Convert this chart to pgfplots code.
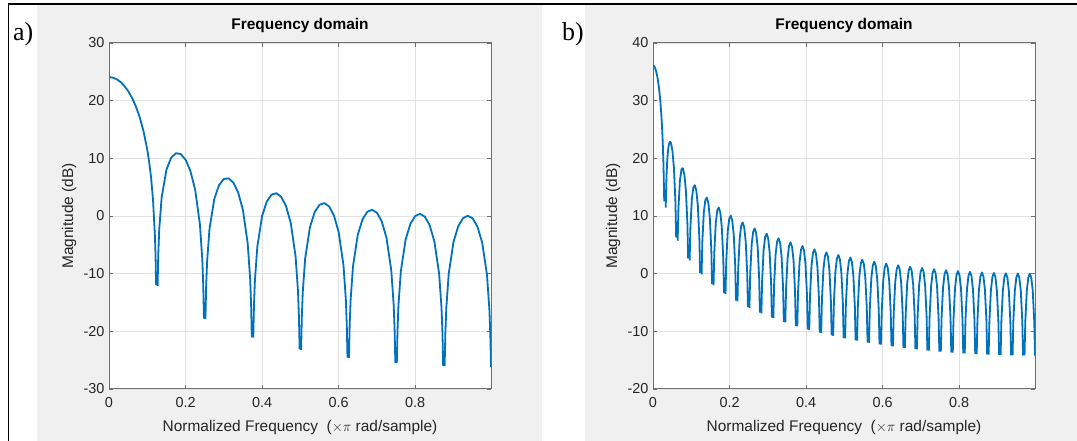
\documentclass[border=0pt]{standalone}
\usepackage{fontspec}
\setmainfont{Liberation Sans}
\newfontfamily\timesfont{Liberation Serif}
\usepackage{pgfplots}
\pgfplotsset{compat=1.18}
\definecolor{mblue}{HTML}{0072BD}
\definecolor{mgray}{HTML}{F0F0F0}
\definecolor{mtext}{HTML}{262626}
\definecolor{mbox}{HTML}{707070}
\definecolor{mgrid}{HTML}{E2E2E2}

\pgfplotsset{freqz/.style={
  scale only axis, width=382bp, height=346bp, anchor=south west,
  xmin=0, xmax=0.99805,
  xtick={0,0.2,0.4,0.6,0.8},
  grid=major, major grid style={mgrid, line width=0.8bp},
  axis line style={mbox, line width=1bp},
  every tick/.style={mbox, line width=0.8bp}, major tick length=4bp,
  tick label style={font=\fontsize{14.5}{14.5}\selectfont, text=mtext},
  xticklabel style={yshift=-5bp},
  yticklabel style={xshift=-1bp},
  /pgf/number format/assume math mode=true,
  label style={font=\fontsize{15.5}{17}\selectfont, text=mtext},
  title style={font=\bfseries\fontsize{15.5}{17}\selectfont, at={(axis description cs:0.5,1.022)}, anchor=base},
  xlabel style={at={(axis description cs:0.5,-0.1214)}, anchor=base},
  ylabel style={at={(axis description cs:-0.094,0.5)}, anchor=base},
  title={Frequency domain},
  xlabel={Normalized Frequency\ \ ($\times\pi$ rad/sample)},
  ylabel={Magnitude (dB)},
  unbounded coords=jump,
  axis background/.style={fill=white},
}}
\tikzset{resp/.style={mblue, line width=1.8bp, line join=round, no marks}}

\begin{document}
\begin{tikzpicture}[x=1bp,y=1bp]
\useasboundingbox (0bp,0bp) rectangle (1077bp,441bp);
% page and panel backgrounds
\fill[white] (0bp,0bp) rectangle (1077bp,441bp);
\fill[mgray] (37bp,0bp) rectangle (542bp,436bp);
\fill[mgray] (585bp,0bp) rectangle (1077bp,436bp);
\draw[black, line width=1.5bp] (8bp,437bp) -- (1077bp,437bp);
\draw[black, line width=1.5bp] (8.5bp,0bp) -- (8.5bp,437.7bp);
\node[anchor=base west, font=\timesfont\fontsize{26}{26}\selectfont, inner sep=0pt] at (13bp,400bp) {a)};
\node[anchor=base west, font=\timesfont\fontsize{26}{26}\selectfont, inner sep=0pt] at (562bp,400bp) {b)};

% a) length-16 rectangular window
\begin{axis}[freqz, at={(109bp,52bp)}, ymin=-30, ymax=30, ytick={-30,-20,-10,0,10,20,30}]
\addplot[resp] coordinates {
(0,24.08)(0.01,23.99)(0.02,23.72)(0.03,23.25)(0.04,22.57)(0.05,21.67)(0.06,20.51)(0.07,19.04)(0.08,17.17)(0.09,14.76)(0.1,11.50)(0.105,9.35)(0.11,6.61)(0.115,2.82)(0.12,-3.50)(0.1215,-6.68)(0.12305,-12.0)(0.125,nan)
(0.12695,-12.1)(0.12875,-6.58)(0.13125,-2.32)(0.1375,3.18)(0.15,8.02)(0.1625,10.12)(0.175,10.89)(0.1875,10.74)(0.2,9.76)(0.2125,7.85)(0.225,4.60)(0.2375,-1.43)(0.24375,-7.56)(0.24625,-12.06)(0.24805,-17.78)(0.25,nan)
(0.25195,-17.90)(0.25375,-12.31)(0.25625,-7.97)(0.2625,-2.26)(0.275,2.94)(0.2875,5.36)(0.3,6.42)(0.3125,6.53)(0.325,5.78)(0.3375,4.08)(0.35,1.02)(0.3625,-4.83)(0.36875,-10.87)(0.37125,-15.34)(0.37305,-21.03)(0.375,nan)
(0.37695,-21.11)(0.37875,-15.49)(0.38125,-11.12)(0.3875,-5.34)(0.4,0.00)(0.4125,2.55)(0.425,3.72)(0.4375,3.95)(0.45,3.31)(0.4625,1.71)(0.475,-1.25)(0.4875,-7.02)(0.49375,-13.01)(0.49625,-17.47)(0.49805,-23.14)(0.5,nan)
(0.50195,-23.20)(0.50375,-17.57)(0.50625,-13.19)(0.5125,-7.36)(0.525,-1.94)(0.5375,0.69)(0.55,1.94)(0.5625,2.24)(0.575,1.66)(0.5875,0.13)(0.6,-2.78)(0.6125,-8.48)(0.61875,-14.45)(0.62125,-18.89)(0.62305,-24.56)(0.625,nan)
(0.62695,-24.60)(0.62875,-18.96)(0.63125,-14.56)(0.6375,-8.71)(0.65,-3.24)(0.6625,-0.56)(0.675,0.74)(0.6875,1.09)(0.7,0.56)(0.7125,-0.92)(0.725,-3.78)(0.7375,-9.44)(0.74375,-15.39)(0.74625,-19.82)(0.74805,-25.48)(0.75,nan)
(0.75195,-25.50)(0.75375,-19.86)(0.75625,-15.46)(0.7625,-9.58)(0.775,-4.07)(0.7875,-1.35)(0.8,0.00)(0.8125,0.38)(0.825,-0.11)(0.8375,-1.55)(0.85,-4.38)(0.8625,-10.00)(0.86875,-15.93)(0.87125,-20.35)(0.87305,-26.01)(0.875,nan)
(0.87695,-26.01)(0.87875,-20.37)(0.88125,-15.96)(0.8875,-10.06)(0.9,-4.51)(0.9125,-1.76)(0.925,-0.38)(0.9375,0.04)(0.95,-0.41)(0.9625,-1.83)(0.975,-4.61)(0.9875,-10.20)(0.99375,-16.11)(0.99625,-20.53)(0.99805,-26.18)
};
\end{axis}

% b) length-64 rectangular window
\begin{axis}[freqz, at={(653bp,52bp)}, ymin=-20, ymax=40, ytick={-20,-10,0,10,20,30,40}]
\addplot[resp] coordinates {
(0,36.12)(0.00391,35.90)(0.00781,35.21)(0.01172,34.01)(0.01563,32.20)(0.01758,31.01)(0.01953,29.58)(0.02148,27.83)(0.02344,25.67)(0.02539,22.88)(0.02734,19.00)(0.02930,12.55)(0.03125,nan)
(0.03320,11.46)(0.03516,16.82)(0.03711,19.58)(0.03906,21.24)(0.04102,22.23)(0.04297,22.73)(0.04492,22.87)(0.04688,22.67)(0.05078,21.28)(0.05469,18.32)(0.05859,12.39)(0.06055,6.25)(0.0625,nan)
(0.06445,5.71)(0.06641,11.31)(0.07031,16.14)(0.07422,18.00)(0.07617,18.29)(0.07813,18.24)(0.08203,17.13)(0.08594,14.41)(0.08984,8.70)(0.09180,2.65)(0.09375,nan)
(0.09570,2.29)(0.09766,7.98)(0.10156,12.97)(0.10547,14.97)(0.10938,15.34)(0.11328,14.35)(0.11719,11.74)(0.12109,6.13)(0.12305,0.13)(0.125,nan)
(0.12695,-0.13)(0.12891,5.61)(0.13281,10.69)(0.13672,12.75)(0.14063,13.19)(0.14453,12.28)(0.14844,9.73)(0.15234,4.18)(0.15430,-1.80)(0.15625,nan)
(0.15820,-2.01)(0.16016,3.75)(0.16406,8.88)(0.16797,10.99)(0.17188,11.48)(0.17578,10.61)(0.17969,8.10)(0.18359,2.59)(0.18555,-3.37)(0.1875,nan)
(0.18945,-3.54)(0.19141,2.23)(0.19531,7.40)(0.19922,9.55)(0.20313,10.07)(0.20703,9.23)(0.21094,6.75)(0.21484,1.27)(0.21680,-4.67)(0.21875,nan)
(0.22070,-4.82)(0.22266,0.97)(0.22656,6.16)(0.23047,8.33)(0.23438,8.88)(0.23828,8.06)(0.24219,5.60)(0.24609,0.14)(0.24805,-5.79)(0.25,nan)
(0.25195,-5.92)(0.25391,-0.12)(0.25781,5.09)(0.26172,7.28)(0.26563,7.85)(0.26953,7.04)(0.27344,4.61)(0.27734,-0.84)(0.27930,-6.76)(0.28125,nan)
(0.28320,-6.87)(0.28516,-1.07)(0.28906,4.15)(0.29297,6.36)(0.29688,6.94)(0.30078,6.15)(0.30469,3.73)(0.30859,-1.71)(0.31055,-7.62)(0.3125,nan)
(0.31445,-7.72)(0.31641,-1.90)(0.32031,3.33)(0.32422,5.56)(0.32813,6.15)(0.33203,5.37)(0.33594,2.96)(0.33984,-2.47)(0.34180,-8.37)(0.34375,nan)
(0.34570,-8.46)(0.34766,-2.65)(0.35156,2.60)(0.35547,4.83)(0.35938,5.43)(0.36328,4.66)(0.36719,2.26)(0.37109,-3.15)(0.37305,-9.05)(0.375,nan)
(0.37695,-9.13)(0.37891,-3.31)(0.38281,1.94)(0.38672,4.18)(0.39063,4.79)(0.39453,4.03)(0.39844,1.64)(0.40234,-3.77)(0.40430,-9.66)(0.40625,nan)
(0.40820,-9.73)(0.41016,-3.91)(0.41406,1.35)(0.41797,3.60)(0.42188,4.22)(0.42578,3.46)(0.42969,1.08)(0.43359,-4.32)(0.43555,-10.22)(0.4375,nan)
(0.43945,-10.28)(0.44141,-4.45)(0.44531,0.82)(0.44922,3.07)(0.45313,3.70)(0.45703,2.95)(0.46094,0.57)(0.46484,-4.82)(0.46680,-10.71)(0.46875,nan)
(0.47070,-10.77)(0.47266,-4.94)(0.47656,0.34)(0.48047,2.60)(0.48438,3.23)(0.48828,2.49)(0.49219,0.11)(0.49609,-5.27)(0.49805,-11.16)(0.5,nan)
(0.50195,-11.22)(0.50391,-5.38)(0.50781,-0.10)(0.51172,2.16)(0.51563,2.80)(0.51953,2.06)(0.52344,-0.31)(0.52734,-5.69)(0.52930,-11.57)(0.53125,nan)
(0.53320,-11.62)(0.53516,-5.78)(0.53906,-0.50)(0.54297,1.78)(0.54688,2.42)(0.55078,1.69)(0.55469,-0.68)(0.55859,-6.05)(0.56055,-11.94)(0.5625,nan)
(0.56445,-11.98)(0.56641,-6.14)(0.57031,-0.85)(0.57422,1.42)(0.57813,2.07)(0.58203,1.34)(0.58594,-1.02)(0.58984,-6.40)(0.59180,-12.28)(0.59375,nan)
(0.59570,-12.32)(0.59766,-6.48)(0.60156,-1.18)(0.60547,1.10)(0.60938,1.75)(0.61328,1.02)(0.61719,-1.33)(0.62109,-6.70)(0.62305,-12.58)(0.625,nan)
(0.62695,-12.62)(0.62891,-6.77)(0.63281,-1.48)(0.63672,0.81)(0.64063,1.46)(0.64453,0.74)(0.64844,-1.61)(0.65234,-6.98)(0.65430,-12.85)(0.65625,nan)
(0.65820,-12.88)(0.66016,-7.04)(0.66406,-1.74)(0.66797,0.55)(0.67188,1.21)(0.67578,0.49)(0.67969,-1.86)(0.68359,-7.22)(0.68555,-13.09)(0.6875,nan)
(0.68945,-13.12)(0.69141,-7.28)(0.69531,-1.97)(0.69922,0.32)(0.70313,0.98)(0.70703,0.27)(0.71094,-2.08)(0.71484,-7.43)(0.71680,-13.31)(0.71875,nan)
(0.72070,-13.33)(0.72266,-7.48)(0.72656,-2.18)(0.73047,0.12)(0.73438,0.78)(0.73828,0.07)(0.74219,-2.27)(0.74609,-7.63)(0.74805,-13.50)(0.75,nan)
(0.75195,-13.52)(0.75391,-7.67)(0.75781,-2.36)(0.76172,-0.07)(0.76563,0.60)(0.76953,-0.11)(0.77344,-2.45)(0.77734,-7.80)(0.77930,-13.67)(0.78125,nan)
(0.78320,-13.69)(0.78516,-7.84)(0.78906,-2.52)(0.79297,-0.22)(0.79688,0.45)(0.80078,-0.26)(0.80469,-2.59)(0.80859,-7.94)(0.81055,-13.81)(0.8125,nan)
(0.81445,-13.83)(0.81641,-7.97)(0.82031,-2.66)(0.82422,-0.35)(0.82813,0.32)(0.83203,-0.38)(0.83594,-2.72)(0.83984,-8.06)(0.84180,-13.93)(0.84375,nan)
(0.84570,-13.95)(0.84766,-8.09)(0.85156,-2.77)(0.85547,-0.47)(0.85938,0.21)(0.86328,-0.49)(0.86719,-2.82)(0.87109,-8.16)(0.87305,-14.03)(0.875,nan)
(0.87695,-14.03)(0.87891,-8.18)(0.88281,-2.86)(0.88672,-0.55)(0.89063,0.13)(0.89453,-0.57)(0.89844,-2.90)(0.90234,-8.24)(0.90430,-14.10)(0.90625,nan)
(0.90820,-14.11)(0.91016,-8.25)(0.91406,-2.93)(0.91797,-0.62)(0.92188,0.07)(0.92578,-0.63)(0.92969,-2.96)(0.93359,-8.29)(0.93555,-14.15)(0.9375,nan)
(0.93945,-14.16)(0.94141,-8.30)(0.94531,-2.98)(0.94922,-0.66)(0.95313,0.02)(0.95703,-0.67)(0.96094,-2.99)(0.96484,-8.33)(0.96680,-14.19)(0.96875,nan)
(0.97070,-14.19)(0.97266,-8.33)(0.97656,-3.00)(0.98047,-0.69)(0.98438,0.00)(0.98828,-0.69)(0.99219,-3.01)(0.99609,-8.34)(0.99805,-14.20)
};
\end{axis}
\end{tikzpicture}
\end{document}
